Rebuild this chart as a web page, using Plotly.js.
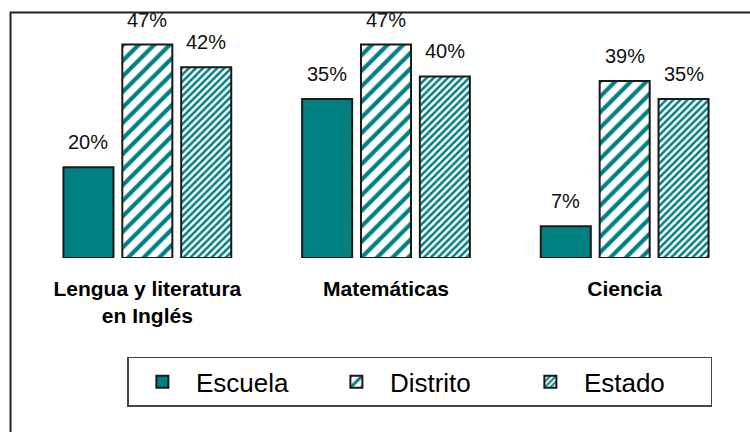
<!DOCTYPE html>
<html>
<head>
<meta charset="utf-8">
<script src="https://cdn.plot.ly/plotly-3.0.1.min.js"></script>
<style>html,body{margin:0;padding:0;background:#fff;}#chart{width:750px;height:432px;}</style>
</head>
<body>
<div id="chart"></div>
<script>
const categories = ["Lengua y literatura<br>en Inglés", "Matemáticas", "Ciencia"];
const seriesNames = ["Escuela", "Distrito", "Estado"];
const escuela = [20, 35, 7];
const distrito = [47, 47, 39];
const estado = [42, 40, 35];

const teal = "#008080";
const values = [escuela, distrito, estado];
const patterns = [
  {shape: ""},
  {shape: "/", fgcolor: teal, bgcolor: "#ffffff", size: 11, solidity: 0.38},
  {shape: "/", fgcolor: teal, bgcolor: "#ffffff", size: 5, solidity: 0.5}
];

const traces = values.map((vals, i) => ({
  type: "bar",
  name: seriesNames[i],
  x: categories,
  y: vals,
  marker: {color: teal, pattern: patterns[i], line: {color: "#1a1a1a", width: 2}},
  hoverinfo: "none"
}));

const offsets = [-59, 0, 59];
const annotations = [];
values.forEach((vals, i) => {
  vals.forEach((v, j) => {
    annotations.push({
      x: categories[j], y: v, xref: "x", yref: "y",
      text: v + "%", showarrow: false,
      xshift: offsets[i], yshift: 12, yanchor: "bottom",
      font: {family: "Liberation Sans, Arial, sans-serif", size: 20, color: "#111"}
    });
  });
});

const layout = {
  width: 750, height: 432,
  margin: {l: 27.5, r: 5.5, t: 30.5, b: 174, autoexpand: false},
  paper_bgcolor: "#fff", plot_bgcolor: "#fff",
  barmode: "group", bargap: 0.26, bargroupgap: 0.15,
  showlegend: true,
  xaxis: {
    type: "category",
    showline: false, showgrid: false, zeroline: false,
    ticks: "", ticklabelstandoff: 16,
    tickfont: {family: "Liberation Sans, Arial, sans-serif", size: 21, color: "#000", weight: "bold"}
  },
  yaxis: {range: [0, 50], visible: false, showgrid: false, zeroline: false},
  legend: {
    orientation: "h", x: 0.1388, xanchor: "left", y: -0.435, yanchor: "top",
    bgcolor: "#fff", bordercolor: "#444", borderwidth: 1.5,
    itemwidth: 57, entrywidth: 122, entrywidthmode: "pixels",
    font: {family: "Liberation Sans, Arial, sans-serif", size: 26, color: "#000"}
  },
  shapes: [{
    type: "rect", xref: "paper", yref: "paper",
    x0: -0.0244, x1: 1.2, y0: -1.0, y1: 1.0813,
    line: {color: "#222", width: 2}, fillcolor: "rgba(0,0,0,0)", layer: "below"
  }],
  annotations: annotations
};

Plotly.newPlot("chart", traces, layout, {displayModeBar: false, staticPlot: true});
</script>
</body>
</html>
